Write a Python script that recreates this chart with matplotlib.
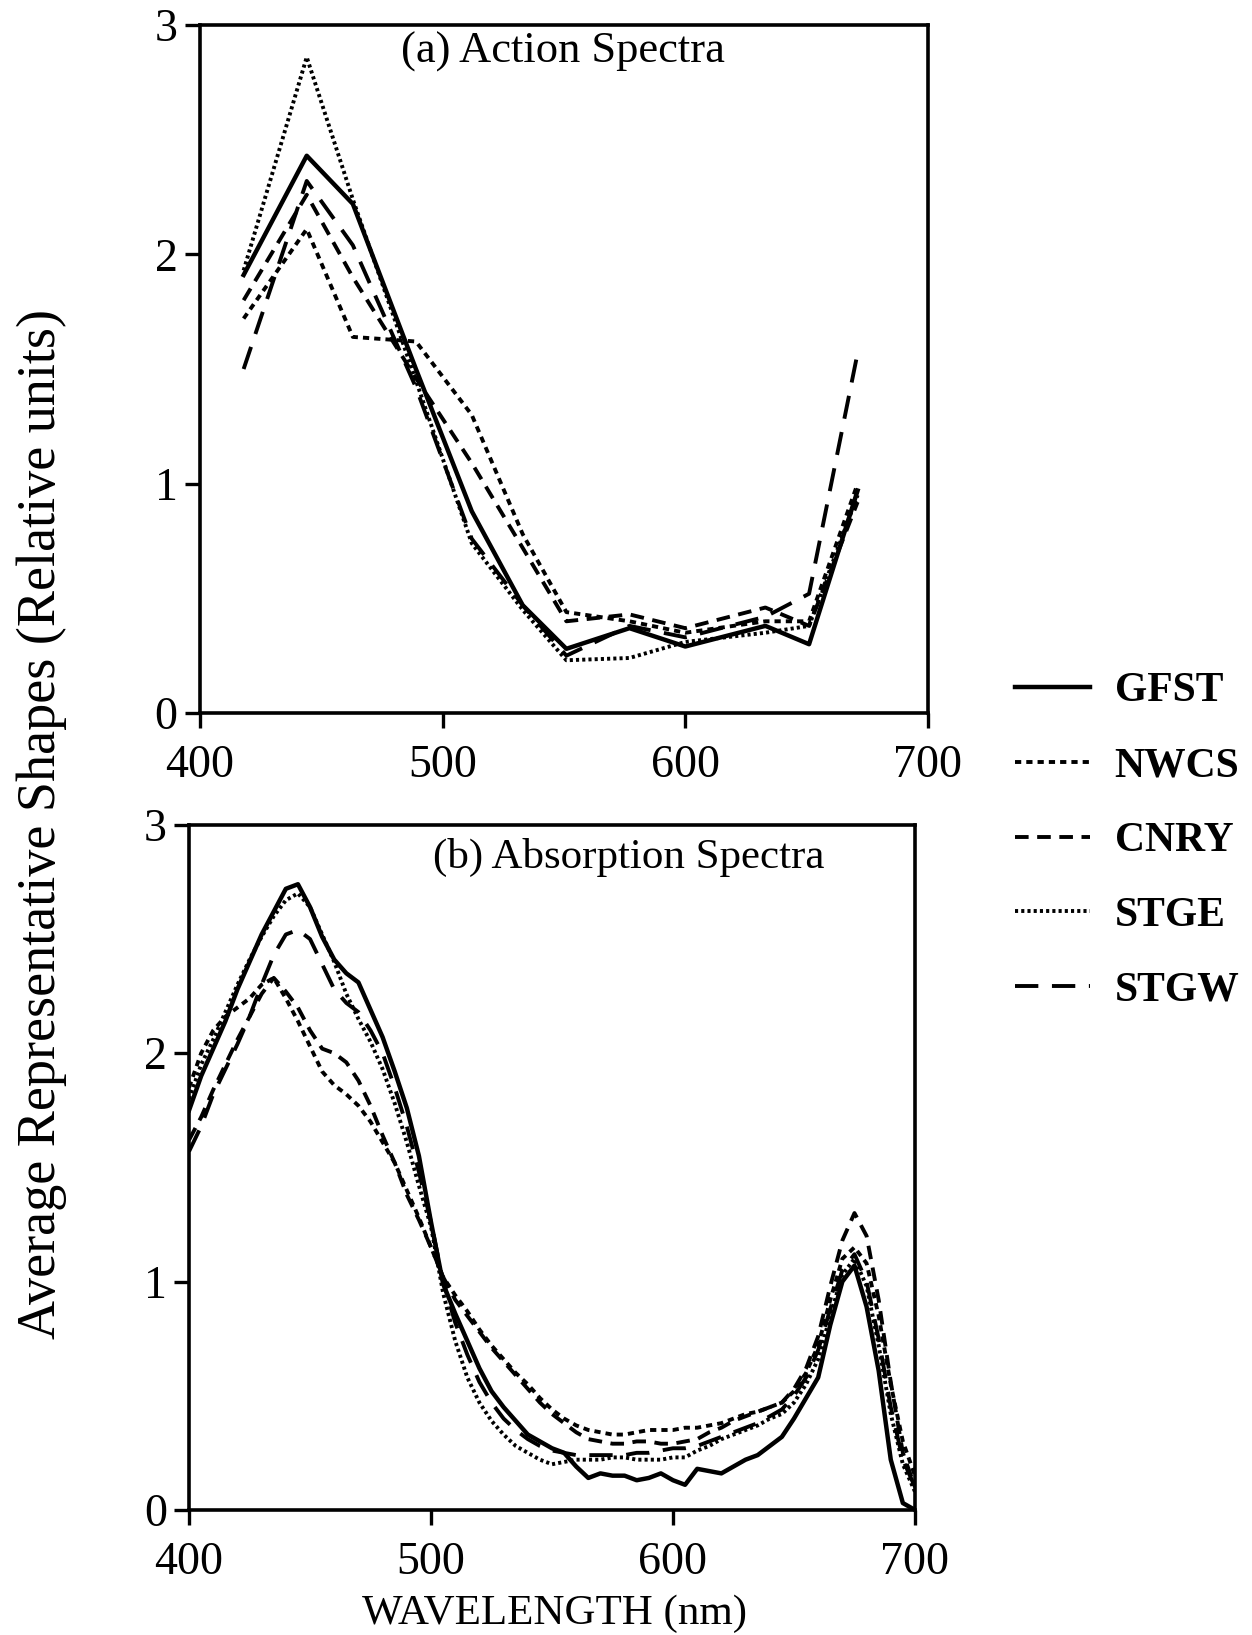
import matplotlib
matplotlib.use("Agg")
import matplotlib.pyplot as plt
from matplotlib.lines import Line2D

plt.rcParams['font.family'] = ['Liberation Serif', 'DejaVu Serif']

# ---- (a) action spectra, measured at discrete wavelengths ----
wl_a = [418, 444, 463, 489, 512, 533, 551, 577, 600, 633, 651, 671]
gfst_a = [1.91, 2.43, 2.22, 1.50, 0.88, 0.47, 0.28, 0.37, 0.29, 0.38, 0.30, 0.97]
nwcs_a = [1.72, 2.11, 1.64, 1.62, 1.30, 0.78, 0.44, 0.40, 0.35, 0.40, 0.40, 1.00]
cnry_a = [1.80, 2.26, 1.90, 1.46, 1.09, 0.72, 0.40, 0.43, 0.37, 0.46, 0.38, 0.92]
stge_a = [1.93, 2.86, 2.24, 1.45, 0.74, 0.45, 0.23, 0.24, 0.31, 0.35, 0.38, 0.95]
stgw_a = [1.50, 2.32, 2.04, 1.42, 0.76, 0.47, 0.25, 0.38, 0.33, 0.42, 0.52, 1.57]

# ---- (b) absorption spectra, every 5 nm ----
wl_b = [400, 405, 410, 415, 420, 425, 430, 435, 440, 445,
        450, 455, 460, 465, 470, 475, 480, 485, 490, 495,
        500, 505, 510, 515, 520, 525, 530, 535, 540, 545,
        550, 555, 560, 565, 570, 575, 580, 585, 590, 595,
        600, 605, 610, 615, 620, 625, 630, 635, 640, 645,
        650, 655, 660, 665, 670, 675, 680, 685, 690, 695, 700]
gfst_b = [1.75, 1.90, 2.02, 2.14, 2.28, 2.40, 2.52, 2.62, 2.72, 2.74,
          2.64, 2.51, 2.41, 2.35, 2.31, 2.19, 2.07, 1.92, 1.76, 1.55,
          1.26, 0.99, 0.86, 0.74, 0.62, 0.52, 0.45, 0.39, 0.33, 0.30,
          0.27, 0.25, 0.19, 0.14, 0.16, 0.15, 0.15, 0.13, 0.14, 0.16,
          0.13, 0.11, 0.18, 0.17, 0.16, 0.19, 0.22, 0.24, 0.28, 0.32,
          0.40, 0.49, 0.58, 0.81, 1.00, 1.07, 0.89, 0.61, 0.22, 0.03, 0.00]
nwcs_b = [1.85, 2.00, 2.10, 2.16, 2.20, 2.24, 2.30, 2.33, 2.24, 2.14,
          2.03, 1.92, 1.86, 1.82, 1.77, 1.70, 1.61, 1.52, 1.40, 1.28,
          1.15, 1.02, 0.94, 0.87, 0.79, 0.72, 0.66, 0.60, 0.55, 0.49,
          0.44, 0.40, 0.37, 0.35, 0.34, 0.33, 0.33, 0.34, 0.35, 0.35,
          0.35, 0.36, 0.36, 0.37, 0.38, 0.40, 0.42, 0.43, 0.45, 0.47,
          0.52, 0.60, 0.72, 0.92, 1.10, 1.15, 1.08, 0.85, 0.55, 0.30, 0.15]
cnry_b = [1.62, 1.72, 1.84, 1.95, 2.06, 2.16, 2.26, 2.33, 2.27, 2.20,
          2.10, 2.02, 2.00, 1.96, 1.88, 1.77, 1.64, 1.52, 1.38, 1.27,
          1.15, 1.02, 0.92, 0.85, 0.78, 0.71, 0.65, 0.59, 0.53, 0.47,
          0.42, 0.38, 0.34, 0.31, 0.30, 0.29, 0.29, 0.30, 0.30, 0.29,
          0.29, 0.30, 0.31, 0.34, 0.36, 0.39, 0.41, 0.43, 0.45, 0.47,
          0.53, 0.62, 0.76, 0.98, 1.18, 1.30, 1.20, 0.92, 0.56, 0.25, 0.10]
stge_b = [1.80, 1.95, 2.06, 2.18, 2.30, 2.41, 2.51, 2.60, 2.67, 2.70,
          2.64, 2.52, 2.40, 2.26, 2.15, 2.05, 1.93, 1.78, 1.61, 1.42,
          1.24, 0.95, 0.74, 0.58, 0.47, 0.39, 0.33, 0.28, 0.25, 0.22,
          0.20, 0.21, 0.22, 0.22, 0.22, 0.23, 0.23, 0.22, 0.22, 0.22,
          0.23, 0.23, 0.26, 0.28, 0.31, 0.33, 0.35, 0.37, 0.40, 0.42,
          0.47, 0.55, 0.66, 0.85, 1.03, 1.10, 0.98, 0.72, 0.42, 0.20, 0.08]
stgw_b = [1.57, 1.68, 1.82, 1.93, 2.04, 2.16, 2.30, 2.43, 2.52, 2.54,
          2.50, 2.39, 2.28, 2.22, 2.18, 2.10, 2.00, 1.85, 1.68, 1.48,
          1.26, 1.00, 0.82, 0.68, 0.56, 0.47, 0.40, 0.35, 0.31, 0.28,
          0.26, 0.25, 0.24, 0.24, 0.24, 0.24, 0.24, 0.25, 0.25, 0.26,
          0.27, 0.27, 0.28, 0.30, 0.32, 0.34, 0.36, 0.38, 0.41, 0.44,
          0.50, 0.58, 0.70, 0.88, 1.05, 1.12, 1.00, 0.75, 0.45, 0.22, 0.10]

names = ['GFST', 'NWCS', 'CNRY', 'STGE', 'STGW']
styles = ['-', (0, (1.6, 1.3)), (0, (3.5, 2.2)), (0, (0.8, 0.8)), (0, (6, 3.5))]
widths = [3.2, 2.8, 2.8, 2.8, 2.8]

fig = plt.figure(figsize=(12.52, 16.35), dpi=100)
ax1 = fig.add_axes([0.1597, 0.5639, 0.5815, 0.4208])
ax2 = fig.add_axes([0.1510, 0.0765, 0.5798, 0.4190])

series_a = [gfst_a, nwcs_a, cnry_a, stge_a, stgw_a]
series_b = [gfst_b, nwcs_b, cnry_b, stge_b, stgw_b]

for ys, ls, lw in zip(series_a, styles, widths):
    ax1.plot(wl_a, ys, color='black', linestyle=ls, linewidth=lw)
for ys, ls, lw in zip(series_b, styles, widths):
    ax2.plot(wl_b, ys, color='black', linestyle=ls, linewidth=lw)

for ax in (ax1, ax2):
    ax.set_xlim(400, 700)
    ax.set_ylim(0, 3)
    ax.set_xticks([400, 500, 600, 700])
    ax.set_yticks([0, 1, 2, 3])
    ax.tick_params(direction='out', length=11, width=2.4, labelsize=33, pad=5)
    ax.tick_params(axis='x', pad=12)
    for sp in ax.spines.values():
        sp.set_linewidth(2.6)

ax1.text(0.499, 0.961, '(a) Action Spectra', transform=ax1.transAxes,
         ha='center', va='center', fontsize=32)
ax2.text(0.605, 0.953, '(b) Absorption Spectra', transform=ax2.transAxes,
         ha='center', va='center', fontsize=31)

fig.text(0.443, 0.0128, 'WAVELENGTH (nm)', ha='center', va='center', fontsize=31)
fig.text(0.0333, 0.4963, 'Average Representative Shapes (Relative units)',
         rotation=90, ha='center', va='center', fontsize=39)

handles = [Line2D([], [], color='black', linestyle=ls, linewidth=lw)
           for ls, lw in zip(styles, widths)]
fig.legend(handles, names, loc='upper left', bbox_to_anchor=(0.797, 0.599),
           frameon=False, prop={'size': 30, 'weight': 'bold'},
           handlelength=1.8, handletextpad=0.6,
           labelspacing=0.88, borderaxespad=0)

fig.savefig('out.png', dpi=100)
